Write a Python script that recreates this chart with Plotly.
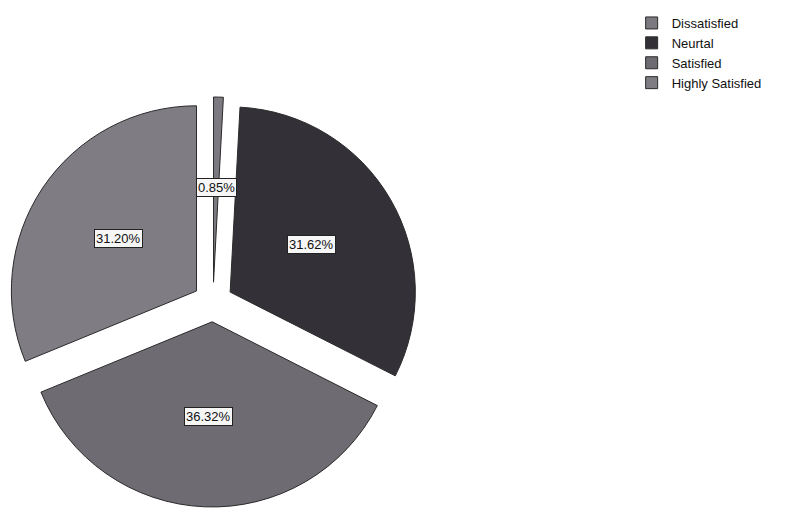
import math
import plotly.graph_objects as go

categories = ["Dissatisfied", "Neurtal", "Satisfied", "Highly Satisfied"]
percentages = [0.85, 31.62, 36.32, 31.20]
label_text = ["0.85%", "31.62%", "36.32%", "31.20%"]
colors = ["#7c7a80", "#333038", "#6f6b73", "#7f7c84"]

W, H = 797, 512
dom_x = [0.0, 0.5144]
dom_y = [0.0158, 0.8358]
pull = 0.107

fig = go.Figure(go.Pie(
    labels=categories,
    values=percentages,
    sort=False,
    direction="clockwise",
    rotation=0,
    pull=pull,
    textinfo="none",
    hoverinfo="label+percent",
    marker=dict(colors=colors, line=dict(color="#2a2a2a", width=1)),
    domain=dict(x=dom_x, y=dom_y),
))

# label boxes placed at slice mid-angles, computed from the data
total = sum(percentages)
size_px = min((dom_x[1] - dom_x[0]) * W, (dom_y[1] - dom_y[0]) * H)
r = size_px / 2 / (1 + pull)
cx = (dom_x[0] + dom_x[1]) / 2
cy = (dom_y[0] + dom_y[1]) / 2
cum = 0.0
annotations = []
for v, t in zip(percentages, label_text):
    mid = (cum + v / 2) / total * 2 * math.pi
    cum += v
    d = r * (pull + 0.51)
    ax = cx + d * math.sin(mid) / W
    ay = cy + d * math.cos(mid) / H
    annotations.append(dict(
        x=ax, y=ay, xref="paper", yref="paper", text=t, showarrow=False,
        xanchor="center", yanchor="middle",
        font=dict(family="Liberation Sans, Arial", size=13, color="#111"),
        bgcolor="#f6f6f6", bordercolor="#222", borderwidth=1, borderpad=1,
    ))

fig.update_layout(
    width=W, height=H,
    margin=dict(l=0, r=0, t=0, b=0, autoexpand=False),
    paper_bgcolor="white",
    plot_bgcolor="white",
    annotations=annotations,
    legend=dict(
        x=0.7825, y=1.0, xanchor="left", yanchor="top",
        font=dict(family="Liberation Sans, Arial", size=13, color="#111"),
        itemwidth=30, tracegroupgap=0,
    ),
)

fig.write_html("out.html")
